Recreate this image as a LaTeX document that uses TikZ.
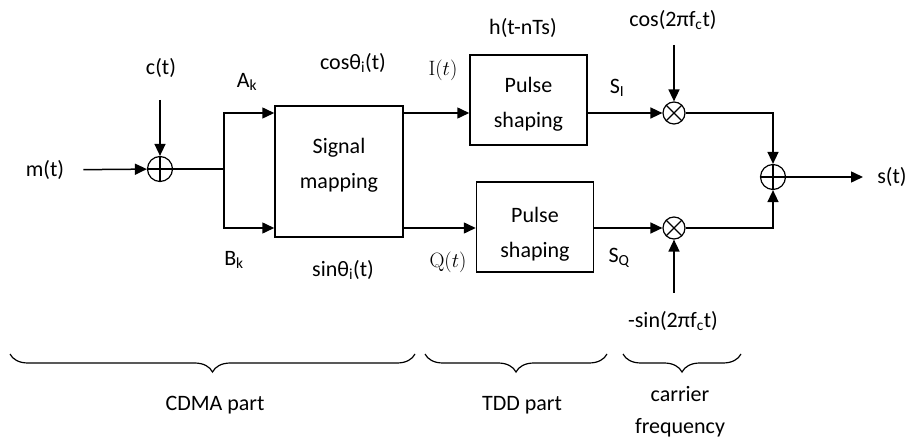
\documentclass[tikz,border=0pt]{standalone}
\usepackage[no-math]{fontspec}
\setmainfont{Carlito}
\usepackage{tikz}
\usetikzlibrary{arrows.meta,positioning,calc,decorations.pathreplacing}
\tikzset{
  sig/.style={-{Triangle[length=12pt,width=11pt]}, line width=1.5pt},
  wire/.style={line width=1.5pt},
  blk/.style={draw, line width=1.5pt, minimum width=117pt, minimum height=90pt},
  blktxt/.style={align=center, font=\fontsize{22}{35}\selectfont},
  adder/.style={draw, circle, line width=1.2pt, minimum size=25pt, inner sep=0pt,
    path picture={\draw[line width=1.2pt] (path picture bounding box.north) -- (path picture bounding box.south)
      (path picture bounding box.west) -- (path picture bounding box.east);}},
  mixer/.style={draw, circle, line width=1.2pt, minimum size=22pt, inner sep=0pt,
    path picture={\draw[line width=1.2pt] (path picture bounding box.north west) -- (path picture bounding box.south east)
      (path picture bounding box.south west) -- (path picture bounding box.north east);}},
  lbl/.style={font=\fontsize{22}{26}\selectfont, inner sep=2pt},
  brc/.style={decorate, decoration={brace, amplitude=18pt}, line width=1.2pt}
}

\begin{document}
\begin{tikzpicture}[x=1pt,y=-1pt]
  \useasboundingbox (0,0) rectangle (907,443);
  \node[lbl] (mt) at (45,170) {m(t)};
  \node[adder] (add1) at (160,169) {};
  \node[lbl] (ct) at (161,68) {c(t)};
  \coordinate (cin) at (160,100);
  \coordinate (br) at (224,169);
  \coordinate (up) at (224,113);
  \coordinate (dn) at (224,228);
  \node[blk, minimum width=128pt, minimum height=131pt] (sm) at (339,171.5) {};
  \node[blktxt] (smtxt) at ([yshift=6pt]sm.center) {Signal\\mapping};
  \node[blk] (ps1) at (528.5,100) {};
  \node[blktxt] (ps1txt) at ([yshift=-4pt]ps1.center) {Pulse\\shaping};
  \node[blk] (ps2) at (535,227) {};
  \node[blktxt] (ps2txt) at ([yshift=-7pt]ps2.center) {Pulse\\shaping};
  \node[mixer] (mul1) at (674,113) {};
  \node[mixer] (mul2) at (674,228) {};
  \coordinate (cosin) at (674,45);
  \coordinate (sinin) at (674,293);
  \node[adder] (add2) at (773,177) {};
  \coordinate (sout) at (863,177);
  \node[lbl] (st) at (892,177) {s(t)};

  \node[lbl] (ak) at (247,82) {A\textsubscript{k}};
  \node[lbl] (bk) at (234,260) {B\textsubscript{k}};
  \node[lbl] (cth) at (353,63) {cosθ\textsubscript{i}(t)};
  \node[lbl] (sth) at (343,270) {sinθ\textsubscript{i}(t)};
  \node[lbl] (it) at (443,70) {$\mathrm{I}(t)$};
  \node[lbl] (qt) at (448,262) {$\mathrm{Q}(t)$};
  \node[lbl] (hn) at (523,28) {h(t-nTs)};
  \node[lbl] (si) at (617,88) {S\textsubscript{I}};
  \node[lbl] (sq) at (619,258) {S\textsubscript{Q}};
  \node[lbl] (cosc) at (673,20) {cos(2πf\textsubscript{c}t)};
  \node[lbl] (sinc) at (673,321) {-sin(2πf\textsubscript{c}t)};

  \draw[sig, shorten <=17pt] (mt) -- (add1);
  \draw[sig] (cin) -- (add1);
  \draw[wire] (add1) -- (br);
  \draw[sig] (br) -- (up) -- (up -| sm.west);
  \draw[sig] (br) -- (dn) -- (dn -| sm.west);
  \draw[sig] (sm.east |- up) -- (ps1.west |- up);
  \draw[sig] (sm.east |- dn) -- (ps2.west |- dn);
  \draw[sig] (ps1.east |- mul1) -- (mul1);
  \draw[sig] (ps2.east |- mul2) -- (mul2);
  \draw[sig] (cosin) -- (mul1);
  \draw[sig] (sinin) -- (mul2);
  \draw[sig] (mul1) -| (add2);
  \draw[sig] (mul2) -| (add2);
  \draw[sig] (add2) -- (sout);

  \draw[brc] (415,354) -- (10,354);
  \draw[brc] (607,354) -- (425,354);
  \draw[brc] (741,354) -- (623,354);
  \node[lbl] (cdma) at (215,405) {CDMA part};
  \node[lbl] (tdd) at (522,405) {TDD part};
  \node[lbl, align=center, font=\fontsize{22}{32}\selectfont] (cf) at (680,412) {carrier\\frequency};
\end{tikzpicture}
\end{document}
